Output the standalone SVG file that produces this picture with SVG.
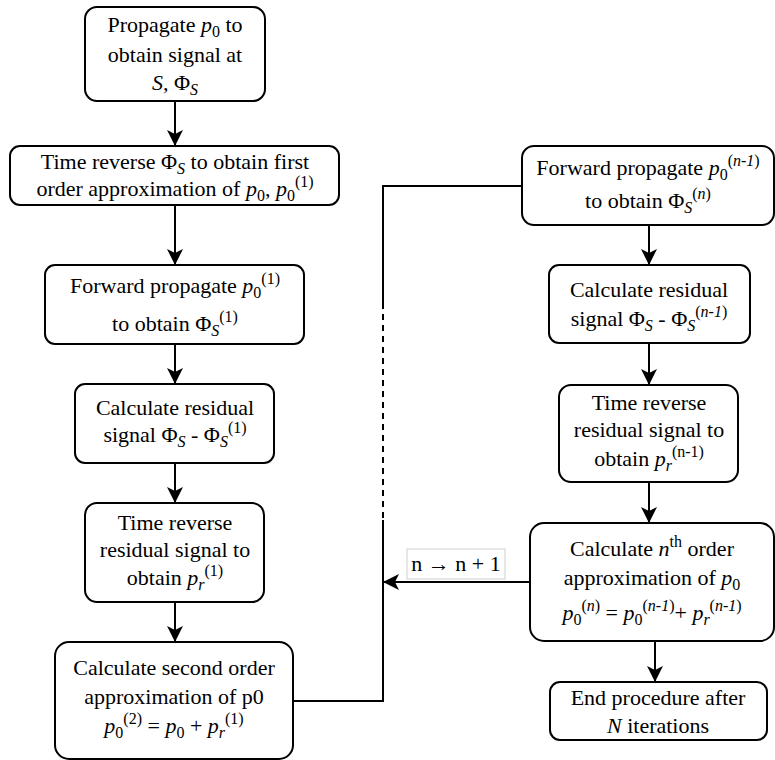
<svg xmlns="http://www.w3.org/2000/svg" width="775" height="760" viewBox="0 0 775 760">
<style>
.nbox{fill:#fff;stroke:#000;stroke-width:2}
.conn{fill:none;stroke:#000;stroke-width:2}
.lblbox{fill:#fff;stroke:#d0d0d0;stroke-width:1}
</style>
<defs>
<marker id="ah" markerUnits="userSpaceOnUse" viewBox="0 0 16 16" refX="16" refY="8" markerWidth="16" markerHeight="16" orient="auto">
<path d="M0,0 L16,8 L0,16 L4,8 z" fill="#000"/>
</marker>
</defs>
<rect width="775" height="760" fill="#fff"/>

<g id="connectors">
<line class="conn" x1="175" y1="101" x2="175" y2="146" marker-end="url(#ah)"/>
<line class="conn" x1="175" y1="205" x2="175" y2="265" marker-end="url(#ah)"/>
<line class="conn" x1="175" y1="344" x2="175" y2="384" marker-end="url(#ah)"/>
<line class="conn" x1="175" y1="463" x2="175" y2="503" marker-end="url(#ah)"/>
<line class="conn" x1="175" y1="602" x2="175" y2="642" marker-end="url(#ah)"/>
<line class="conn" x1="649" y1="225" x2="649" y2="265" marker-end="url(#ah)"/>
<line class="conn" x1="649" y1="343" x2="649" y2="385" marker-end="url(#ah)"/>
<line class="conn" x1="649" y1="482" x2="649" y2="523" marker-end="url(#ah)"/>
<line class="conn" x1="655" y1="641" x2="655" y2="682" marker-end="url(#ah)"/>
<polyline class="conn" points="293,701 383,701 383,520"/>
<line class="conn" x1="383" y1="518" x2="383" y2="311" stroke-dasharray="6 5"/>
<polyline class="conn" points="383,309 383,186 522,186"/>
<line class="conn" x1="530" y1="582" x2="383" y2="582" marker-end="url(#ah)"/>
<g id="label-iter">
<rect class="lblbox" x="407" y="549" width="98" height="30"/>
<text font-family="Liberation Serif" font-size="22" text-anchor="middle" x="456" y="571">n → n + 1</text>
</g>
</g>

<g id="node-propagate" font-family="Liberation Serif" font-size="22" text-anchor="middle">
<rect class="nbox" x="85" y="7" width="180" height="94" rx="12"/>
<text font-family="Liberation Serif" font-size="22" x="175" y="32">Propagate <tspan font-style="italic">p</tspan><tspan font-size="16" baseline-shift="-5">0</tspan> to</text>
<text font-family="Liberation Serif" font-size="22" x="175" y="62">obtain signal at</text>
<text font-family="Liberation Serif" font-size="22" x="175" y="90"><tspan font-style="italic">S,</tspan> Φ<tspan font-size="16" font-style="italic" baseline-shift="-5">S</tspan></text>
</g>

<g id="node-time-reverse-1" font-family="Liberation Serif" font-size="22" text-anchor="middle">
<rect class="nbox" x="10" y="146" width="329" height="59" rx="10"/>
<text font-family="Liberation Serif" font-size="22" x="175" y="169">Time reverse Φ<tspan font-size="16" font-style="italic" baseline-shift="-5">S</tspan> to obtain first</text>
<text font-family="Liberation Serif" font-size="22" x="175" y="196">order approximation of <tspan font-style="italic">p</tspan><tspan font-size="16" baseline-shift="-5">0</tspan>, <tspan font-style="italic">p</tspan><tspan font-size="16" baseline-shift="-5">0</tspan><tspan font-size="16" baseline-shift="9">(1)</tspan></text>
</g>

<g id="node-forward-1" font-family="Liberation Serif" font-size="22" text-anchor="middle">
<rect class="nbox" x="45" y="265" width="259" height="79" rx="10"/>
<text font-family="Liberation Serif" font-size="22" x="175" y="293">Forward propagate <tspan font-style="italic">p</tspan><tspan font-size="16" baseline-shift="-5">0</tspan><tspan font-size="16" baseline-shift="9">(1)</tspan></text>
<text font-family="Liberation Serif" font-size="22" x="175" y="331">to obtain Φ<tspan font-size="16" font-style="italic" baseline-shift="-5">S</tspan><tspan font-size="16" baseline-shift="9">(1)</tspan></text>
</g>

<g id="node-residual-1" font-family="Liberation Serif" font-size="22" text-anchor="middle">
<rect class="nbox" x="75" y="384" width="199" height="79" rx="10"/>
<text font-family="Liberation Serif" font-size="22" x="175" y="415">Calculate residual</text>
<text font-family="Liberation Serif" font-size="22" x="175" y="442">signal Φ<tspan font-size="16" font-style="italic" baseline-shift="-5">S</tspan> - Φ<tspan font-size="16" font-style="italic" baseline-shift="-5">S</tspan><tspan font-size="16" baseline-shift="9">(1)</tspan></text>
</g>

<g id="node-time-reverse-res-1" font-family="Liberation Serif" font-size="22" text-anchor="middle">
<rect class="nbox" x="85" y="503" width="179" height="99" rx="12"/>
<text font-family="Liberation Serif" font-size="22" x="175" y="530">Time reverse</text>
<text font-family="Liberation Serif" font-size="22" x="175" y="557">residual signal to</text>
<text font-family="Liberation Serif" font-size="22" x="175" y="585">obtain <tspan font-style="italic">p</tspan><tspan font-size="16" font-style="italic" baseline-shift="-5">r</tspan><tspan font-size="16" baseline-shift="9">(1)</tspan></text>
</g>

<g id="node-second-order" font-family="Liberation Serif" font-size="22" text-anchor="middle">
<rect class="nbox" x="55" y="642" width="238" height="117" rx="14"/>
<text font-family="Liberation Serif" font-size="22" x="174" y="675">Calculate second order</text>
<text font-family="Liberation Serif" font-size="22" x="174" y="704">approximation of p0</text>
<text font-family="Liberation Serif" font-size="22" x="174" y="733"><tspan font-style="italic">p</tspan><tspan font-size="16" baseline-shift="-5">0</tspan><tspan font-size="16" baseline-shift="9">(2)</tspan> = <tspan font-style="italic">p</tspan><tspan font-size="16" baseline-shift="-5">0</tspan> + <tspan font-style="italic">p</tspan><tspan font-size="16" font-style="italic" baseline-shift="-5">r</tspan><tspan font-size="16" baseline-shift="9">(1)</tspan></text>
</g>

<g id="node-forward-n" font-family="Liberation Serif" font-size="22" text-anchor="middle">
<rect class="nbox" x="522" y="146" width="252" height="79" rx="12"/>
<text font-family="Liberation Serif" font-size="22" x="648" y="175">Forward propagate <tspan font-style="italic">p</tspan><tspan font-size="16" baseline-shift="-5">0</tspan><tspan font-size="16" baseline-shift="9">(<tspan font-style="italic">n-1</tspan>)</tspan></text>
<text font-family="Liberation Serif" font-size="22" x="648" y="208">to obtain Φ<tspan font-size="16" font-style="italic" baseline-shift="-5">S</tspan><tspan font-size="16" baseline-shift="9">(<tspan font-style="italic">n</tspan>)</tspan></text>
</g>

<g id="node-residual-n" font-family="Liberation Serif" font-size="22" text-anchor="middle">
<rect class="nbox" x="549" y="265" width="201" height="78" rx="10"/>
<text font-family="Liberation Serif" font-size="22" x="649" y="297">Calculate residual</text>
<text font-family="Liberation Serif" font-size="22" x="649" y="326">signal Φ<tspan font-size="16" font-style="italic" baseline-shift="-5">S</tspan> - Φ<tspan font-size="16" font-style="italic" baseline-shift="-5">S</tspan><tspan font-size="16" baseline-shift="9">(<tspan font-style="italic">n-1</tspan>)</tspan></text>
</g>

<g id="node-time-reverse-n" font-family="Liberation Serif" font-size="22" text-anchor="middle">
<rect class="nbox" x="559" y="385" width="179" height="97" rx="12"/>
<text font-family="Liberation Serif" font-size="22" x="649" y="410">Time reverse</text>
<text font-family="Liberation Serif" font-size="22" x="649" y="437">residual signal to</text>
<text font-family="Liberation Serif" font-size="22" x="649" y="466">obtain <tspan font-style="italic">p</tspan><tspan font-size="16" font-style="italic" baseline-shift="-5">r</tspan><tspan font-size="16" baseline-shift="9">(n-1)</tspan></text>
</g>

<g id="node-nth-order" font-family="Liberation Serif" font-size="22" text-anchor="middle">
<rect class="nbox" x="530" y="523" width="244" height="118" rx="14"/>
<text font-family="Liberation Serif" font-size="22" x="652" y="556">Calculate <tspan font-style="italic">n</tspan><tspan font-size="16" baseline-shift="9">th</tspan> order</text>
<text font-family="Liberation Serif" font-size="22" x="652" y="585">approximation of <tspan font-style="italic">p</tspan><tspan font-size="16" baseline-shift="-5">0</tspan></text>
<text font-family="Liberation Serif" font-size="22" x="652" y="620"><tspan font-style="italic">p</tspan><tspan font-size="16" baseline-shift="-5">0</tspan><tspan font-size="16" baseline-shift="9">(<tspan font-style="italic">n</tspan>)</tspan> = <tspan font-style="italic">p</tspan><tspan font-size="16" baseline-shift="-5">0</tspan><tspan font-size="16" baseline-shift="9">(<tspan font-style="italic">n-1</tspan>)</tspan>+ <tspan font-style="italic">p</tspan><tspan font-size="16" font-style="italic" baseline-shift="-5">r</tspan><tspan font-size="16" baseline-shift="9">(<tspan font-style="italic">n-1</tspan>)</tspan></text>
</g>

<g id="node-end" font-family="Liberation Serif" font-size="22" text-anchor="middle">
<rect class="nbox" x="550" y="682" width="217" height="58" rx="10"/>
<text font-family="Liberation Serif" font-size="22" x="658" y="705">End procedure after</text>
<text font-family="Liberation Serif" font-size="22" x="658" y="733"><tspan font-style="italic">N</tspan> iterations</text>
</g>
</svg>
